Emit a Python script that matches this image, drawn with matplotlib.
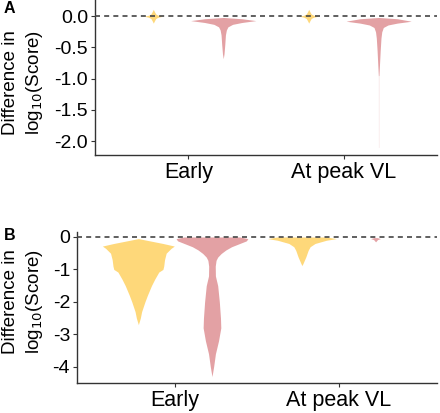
import numpy as np
import matplotlib
matplotlib.use("Agg")
import matplotlib.pyplot as plt

plt.rcParams['font.family'] = ['Liberation Sans', 'DejaVu Sans']

categories = ["Early", "At peak VL"]
yellow = "#FED87A"
pink = "#E3A1A4"

# violin outlines: depth (log10 diff) and half-width
star_depth = [0.11, 0.07, 0.035, 0.015, 0.0, -0.015, -0.035, -0.07, -0.11]
star_width = [0.0, 0.008, 0.016, 0.032, 0.06, 0.032, 0.016, 0.008, 0.0]

a_early_pink_depth = [-0.02, -0.04, -0.07, -0.10, -0.13, -0.17, -0.22, -0.3, -0.45, -0.6, -0.68]
a_early_pink_width = [0.0, 0.12, 0.21, 0.12, 0.06, 0.03, 0.02, 0.014, 0.01, 0.005, 0.0]

a_peak_pink_depth = [-0.02, -0.04, -0.08, -0.11, -0.14, -0.18, -0.25, -0.35, -0.55, -0.8, -0.95]
a_peak_pink_width = [0.0, 0.12, 0.21, 0.12, 0.06, 0.03, 0.02, 0.015, 0.01, 0.005, 0.002]
a_peak_tail_depth = [-0.95, -2.1]
a_peak_tail_width = [0.002, 0.0015]

b_early_yel_depth = [-0.05, -0.1, -0.2, -0.28, -0.35, -0.5, -0.7, -0.9, -1.0, -1.08,
                     -1.3, -1.5, -1.8, -2.0, -2.3, -2.5, -2.7]
b_early_yel_width = [0.0, 0.05, 0.15, 0.22, 0.2, 0.17, 0.16, 0.155, 0.15, 0.125,
                     0.1, 0.08, 0.055, 0.04, 0.02, 0.012, 0.0]

b_early_pink_depth = [0.0, -0.05, -0.12, -0.2, -0.3, -0.4, -0.51, -0.62, -0.72, -0.9,
                      -1.2, -1.5, -2.0, -2.5, -2.8, -3.2, -3.6, -4.0, -4.3]
b_early_pink_width = [0.17, 0.22, 0.21, 0.17, 0.12, 0.085, 0.056, 0.035, 0.025, 0.02,
                      0.021, 0.035, 0.045, 0.052, 0.054, 0.04, 0.021, 0.01, 0.0]

b_peak_yel_depth = [0.0, -0.05, -0.1, -0.2, -0.3, -0.41, -0.61, -0.82, -0.88]
b_peak_yel_width = [0.15, 0.21, 0.15, 0.08, 0.05, 0.038, 0.024, 0.006, 0.0]

b_peak_pink_depth = [-0.02, -0.05, -0.08, -0.15]
b_peak_pink_width = [0.01, 0.03, 0.012, 0.0]

dodge = 0.225


def violin(ax, center, depth, width, color, alpha=1.0):
    d = np.array(depth)[::-1]
    w = np.array(width)[::-1]
    yy = np.linspace(d[0], d[-1], 400)
    ww = np.interp(yy, d, w)
    ax.fill_betweenx(yy, center - ww, center + ww, color=color, lw=0, alpha=alpha, zorder=2)


def style(ax, ylim, yticks, yticklabels):
    ax.set_xlim(0.4, 2.6)
    ax.set_ylim(*ylim)
    ax.set_xticks([1, 2])
    ax.set_xticklabels(categories, fontsize=15.5)
    ax.set_yticks(yticks)
    ax.set_yticklabels(yticklabels, fontsize=14)
    for s in ["top", "right"]:
        ax.spines[s].set_visible(False)
    for s in ["left", "bottom"]:
        ax.spines[s].set_color("#333333")
        ax.spines[s].set_linewidth(1.0)
    ax.tick_params(length=3, color="#333333", pad=2)
    ax.axhline(0, color="#444444", lw=1.2, ls=(0, (3, 2.5)), zorder=3)


fig = plt.figure(figsize=(4.4, 4.13), dpi=100)

axA = fig.add_axes([0.216, 0.625, 0.777, 0.375])
violin(axA, 1 - dodge, star_depth, star_width, yellow)
violin(axA, 1 + dodge, a_early_pink_depth, a_early_pink_width, pink)
violin(axA, 2 - dodge, star_depth, star_width, yellow)
violin(axA, 2 + dodge, a_peak_pink_depth, a_peak_pink_width, pink)
violin(axA, 2 + dodge, a_peak_tail_depth, a_peak_tail_width, pink, alpha=0.35)
style(axA, (-2.22, 0.26), [0, -0.5, -1.0, -1.5, -2.0], ["0.0", "-0.5", "-1.0", "-1.5", "-2.0"])

axB = fig.add_axes([0.175, 0.0726, 0.818, 0.365])
violin(axB, 1 - dodge, b_early_yel_depth, b_early_yel_width, yellow)
violin(axB, 1 + dodge, b_early_pink_depth, b_early_pink_width, pink)
violin(axB, 2 - dodge, b_peak_yel_depth, b_peak_yel_width, yellow)
violin(axB, 2 + dodge, b_peak_pink_depth, b_peak_pink_width, pink)
style(axB, (-4.5, 0.145), [0, -1, -2, -3, -4], ["0", "-1", "-2", "-3", "-4"])

fig.text(0.009, 0.98, "A", fontsize=11.5, fontweight="bold", va="center")
fig.text(0.009, 0.43, "B", fontsize=11.5, fontweight="bold", va="center")

ylab = "Difference in\nlog$_{10}$(Score)"
fig.text(0.054, 0.80, ylab, rotation=90, fontsize=13.5, ha="center", va="center",
         multialignment="center", linespacing=1.35)
fig.text(0.054, 0.27, ylab, rotation=90, fontsize=13.5, ha="center", va="center",
         multialignment="center", linespacing=1.35)

fig.savefig("out.png", dpi=100)
